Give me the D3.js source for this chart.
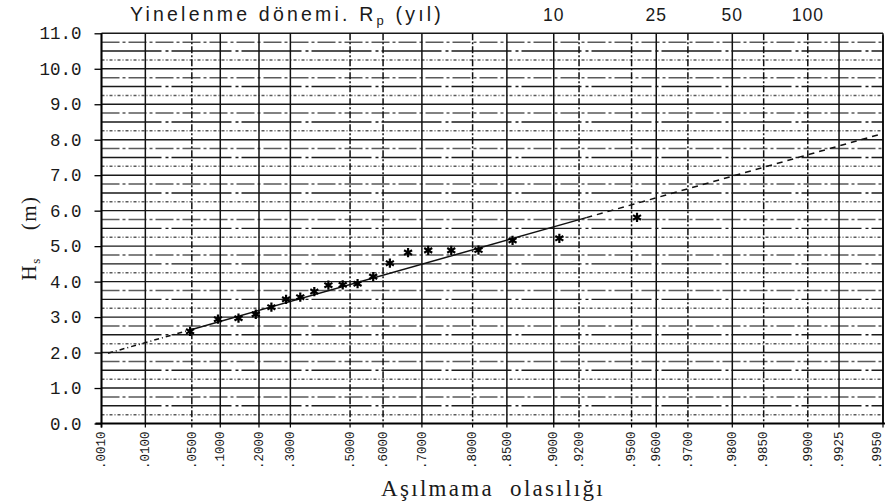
<!DOCTYPE html>
<html>
<head>
<meta charset="utf-8">
<script src="https://cdn.jsdelivr.net/npm/d3@7/dist/d3.min.js"></script>
<style>
  html, body { margin: 0; padding: 0; background: #fff; }
  svg { display: block; }
</style>
</head>
<body>
<svg id="chart" width="889" height="502"></svg>
<script>
// Gumbel probability paper: wave height Hs against non-exceedance probability

// Probability ticks along the bottom and their printed labels
const probTicks = [0.001, 0.01, 0.05, 0.1, 0.2, 0.3, 0.5, 0.6, 0.7, 0.8, 0.85, 0.9,
                   0.92, 0.95, 0.96, 0.97, 0.98, 0.985, 0.99, 0.9925, 0.995];
const probTickLabels = [".0010", ".0100", ".0500", ".1000", ".2000", ".3000", ".5000",
                        ".6000", ".7000", ".8000", ".8500", ".9000", ".9200", ".9500",
                        ".9600", ".9700", ".9800", ".9850", ".9900", ".9925", ".9950"];
// Which probability grid lines are drawn solid (others dashed)
const solidProbLines = [0.001, 0.01, 0.1, 0.2, 0.3, 0.7, 0.85, 0.9, 0.96, 0.98, 0.9925, 0.995];

// Return periods shown on the top axis (years)
const returnPeriods = [10, 25, 50, 100];
const returnPeriodLabels = ["10", "25", "50", "100"];

// Height axis
const hsTicks = [0, 1, 2, 3, 4, 5, 6, 7, 8, 9, 10, 11];
const hsTickLabels = ["0.0", "1.0", "2.0", "3.0", "4.0", "5.0", "6.0", "7.0", "8.0", "9.0", "10.0", "11.0"];

// Observed annual maxima: plotting probability and height (m)
const obsProb = [0.0476, 0.0952, 0.1429, 0.1905, 0.2381, 0.2857, 0.3333, 0.3810, 0.4286, 0.4762,
                 0.5238, 0.5714, 0.6190, 0.6667, 0.7143, 0.7619, 0.8095, 0.8571, 0.9048, 0.9524];
const obsHs   = [2.60, 2.94, 2.97, 3.08, 3.28, 3.50, 3.56, 3.72, 3.90, 3.91,
                 3.94, 4.14, 4.52, 4.82, 4.88, 4.88, 4.89, 5.16, 5.22, 5.81];

// Fitted Gumbel line Hs = loc + scale * y, drawn solid over the data range, dashed beyond
const fitLoc = 3.60;
const fitScale = 0.864;
const fitSegments = [
  { from: 0.0015, to: 0.05,  dash: "5,3,1,3" },
  { from: 0.05,   to: 0.925, dash: null },
  { from: 0.925,  to: 0.995, dash: "6,5" }
];

const reduced = p => -Math.log(-Math.log(p));

const svg = d3.select("#chart");
const plotLeft = 101.5, plotRight = 883, plotTop = 33.3, plotBottom = 423.5;

const x = d3.scaleLinear().domain([reduced(0.001), reduced(0.995)]).range([plotLeft, plotRight]);
const y = d3.scaleLinear().domain([0, 11]).range([plotBottom, plotTop]);

const monoFont = "'Liberation Mono', 'Courier New', monospace";

// Horizontal grid every 0.25 m
const grid = svg.append("g");
const hLines = d3.range(1, 45).map(i => i * 0.25);
grid.selectAll("line.h").data(hLines).join("line")
  .attr("x1", plotLeft).attr("x2", plotRight)
  .attr("y1", d => y(d)).attr("y2", d => y(d))
  .attr("stroke", d => (d % 0.5 === 0) ? "#1a1a1a" : "#5a5a5a")
  .attr("stroke-width", d => (d % 0.5 === 0) ? 1.4 : 1.5)
  .attr("stroke-dasharray", (d, i) => {
    if (d % 1 === 0) return null;
    if (d % 0.5 === 0) return "60,4,3,3";
    return (i % 4 === 0) ? "3,2,1,2" : "18,3,3,3";
  });

// Vertical grid at each probability tick
grid.selectAll("line.v").data(probTicks).join("line")
  .attr("x1", d => x(reduced(d))).attr("x2", d => x(reduced(d)))
  .attr("y1", plotTop).attr("y2", plotBottom)
  .attr("stroke", "#111")
  .attr("stroke-width", 1.5)
  .attr("stroke-dasharray", d => solidProbLines.includes(d) ? null : "7,2,2,2");

// Frame: left and bottom axes, right edge
svg.append("line").attr("x1", plotLeft).attr("x2", plotLeft).attr("y1", plotTop).attr("y2", plotBottom + 4)
  .attr("stroke", "#000").attr("stroke-width", 1.8);
svg.append("line").attr("x1", plotLeft - 6).attr("x2", plotRight + 2).attr("y1", plotBottom).attr("y2", plotBottom)
  .attr("stroke", "#000").attr("stroke-width", 1.8);
svg.append("line").attr("x1", plotRight).attr("x2", plotRight).attr("y1", plotTop + 2).attr("y2", plotBottom)
  .attr("stroke", "#000").attr("stroke-width", 1.4);

// Left axis ticks and labels
const yAxis = d3.axisLeft(y).tickValues(hsTicks).tickSize(7)
  .tickFormat((d, i) => hsTickLabels[i]).tickPadding(13);
const yg = svg.append("g").attr("transform", `translate(${plotLeft},0)`).call(yAxis);
yg.select(".domain").remove();
yg.selectAll(".tick line").attr("stroke", "#000").attr("stroke-width", 1.3);
yg.selectAll(".tick text").attr("font-family", monoFont).attr("font-size", 17.5)
  .attr("fill", "#1a1a1a");

// Bottom axis: rotated probability labels (the last one kept inside the frame edge)
const xg = svg.append("g");
xg.selectAll("line").data(probTicks).join("line")
  .attr("x1", d => x(reduced(d))).attr("x2", d => x(reduced(d)))
  .attr("y1", plotBottom).attr("y2", plotBottom + 4)
  .attr("stroke", "#000").attr("stroke-width", 1.2);
xg.selectAll("text").data(probTicks).join("text")
  .attr("transform", d => `translate(${x(reduced(d))},${plotBottom + 8}) rotate(-90)`)
  .attr("text-anchor", "end")
  .attr("dy", (d, i) => i === probTicks.length - 1 ? "-0.15em" : "0.3em")
  .attr("font-family", monoFont)
  .attr("font-size", 12.5)
  .attr("fill", "#1a1a1a")
  .text((d, i) => probTickLabels[i]);

// Top axis: return periods
svg.append("g").selectAll("text").data(returnPeriods).join("text")
  .attr("x", d => x(reduced(1 - 1 / d)))
  .attr("y", 21)
  .attr("text-anchor", "middle")
  .attr("font-family", "'Liberation Sans', Arial, sans-serif")
  .attr("font-size", 17.5)
  .attr("letter-spacing", 1)
  .attr("fill", "#1a1a1a")
  .text((d, i) => returnPeriodLabels[i]);

const topTitle = svg.append("text")
  .attr("x", 130).attr("y", 21)
  .attr("font-family", "'Liberation Sans', Arial, sans-serif")
  .attr("font-size", 19.5)
  .attr("letter-spacing", 3.2)
  .attr("fill", "#1a1a1a")
  .attr("xml:space", "preserve");
topTitle.append("tspan").text("Yinelenme dönemi. R");
topTitle.append("tspan").attr("font-size", 13).attr("dy", 4).text("p");
topTitle.append("tspan").attr("dy", -4).text(" (yıl)");

// Axis titles
svg.append("text")
  .attr("x", 493).attr("y", 496)
  .attr("text-anchor", "middle")
  .attr("font-family", "'Liberation Serif', 'Times New Roman', serif")
  .attr("font-size", 23)
  .attr("letter-spacing", 2.3)
  .attr("fill", "#1a1a1a")
  .attr("xml:space", "preserve")
  .text("Aşılmama  olasılığı");

const yTitle = svg.append("text")
  .attr("transform", "translate(36,238) rotate(-90)")
  .attr("text-anchor", "middle")
  .attr("font-family", "'Liberation Serif', 'Times New Roman', serif")
  .attr("font-size", 21)
  .attr("letter-spacing", 1.5)
  .attr("fill", "#1a1a1a")
  .attr("xml:space", "preserve");
yTitle.append("tspan").text("H");
yTitle.append("tspan").attr("font-size", 13).attr("dy", 4).text("s");
yTitle.append("tspan").attr("dy", -4).text("    (m)");

// Fitted line
const fitLine = d3.line().x(p => x(reduced(p))).y(p => y(fitLoc + fitScale * reduced(p)));
svg.append("g").selectAll("path").data(fitSegments).join("path")
  .attr("d", s => fitLine([s.from, s.to]))
  .attr("fill", "none")
  .attr("stroke", "#111")
  .attr("stroke-width", 1.5)
  .attr("stroke-dasharray", s => s.dash);

// Observations
svg.append("g").selectAll("path").data(obsProb).join("path")
  .attr("transform", (p, i) => `translate(${x(reduced(p))},${y(obsHs[i])})`)
  .attr("d", d3.symbol(d3.symbolAsterisk, 60))
  .attr("fill", "none")
  .attr("stroke", "#000")
  .attr("stroke-width", 2.2);
</script>
</body>
</html>
